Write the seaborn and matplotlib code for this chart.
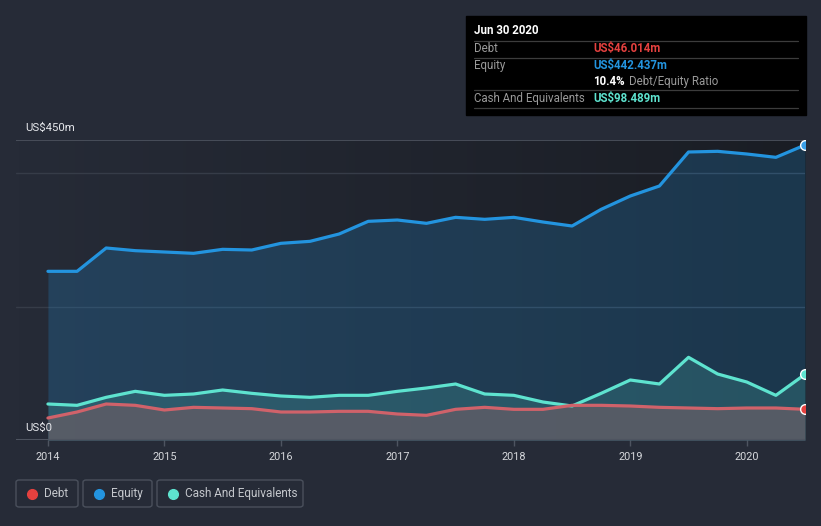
import numpy as np
import pandas as pd
import seaborn as sns
import matplotlib.pyplot as plt
from matplotlib.patches import FancyBboxPatch, Rectangle
from matplotlib.lines import Line2D
from matplotlib.colors import LinearSegmentedColormap

# Quarterly values, US$ millions
quarters = [2014.0, 2014.25, 2014.5, 2014.75, 2015.0, 2015.25, 2015.5, 2015.75,
            2016.0, 2016.25, 2016.5, 2016.75, 2017.0, 2017.25, 2017.5, 2017.75,
            2018.0, 2018.25, 2018.5, 2018.75, 2019.0, 2019.25, 2019.5, 2019.75,
            2020.0, 2020.25, 2020.5]
equity = [253, 253, 288, 284, 282, 280, 286, 285, 295, 298, 309, 328, 330, 325,
          334, 331, 334, 327, 321, 346, 366, 381, 432, 433, 429, 424, 442.437]
cash = [54, 52, 64, 73, 67, 69, 75, 70, 66, 64, 67, 67, 73, 78, 84, 69, 67, 57,
        51, 70, 90, 84, 124, 99, 87, 67, 98.489]
debt = [33, 42, 54, 52, 45, 49, 48, 47, 42, 42, 43, 43, 39, 37, 46, 49, 46, 46,
        52, 52, 51, 49, 48, 47, 48, 48, 46.014]
year_ticks = [2014, 2015, 2016, 2017, 2018, 2019, 2020]

W, H = 821, 526
BG = "#262b37"
EQ = "#2394df"
CA = "#5ee3cf"
DE = "#d0626a"


def fx(px):
    return px / W


def fy(py):
    return 1 - py / H


sns.set_theme(style="dark")
plt.rcParams["font.family"] = ["Roboto", "DejaVu Sans"]

df = pd.DataFrame({"date": quarters, "Equity": equity, "Cash": cash, "Debt": debt})

fig = plt.figure(figsize=(W / 100, H / 100), dpi=100, facecolor=BG)
ax = fig.add_axes([fx(16), fy(440), fx(805) - fx(16), fy(140) - fy(440)])
ax.set_facecolor(BG)

# horizontal background gradient of the plot area
cmap = LinearSegmentedColormap.from_list("bg", [BG, "#1a1d24"])
ax.imshow(np.linspace(0, 1, 256).reshape(1, -1), extent=[0, 1, 0, 1],
          transform=ax.transAxes, cmap=cmap, aspect="auto", zorder=0)

x0 = 2014 - 32 / 116.7
ax.set_xlim(x0, 2020.5)
ax.set_ylim(0, 450)

# grid lines
for v in [200, 400]:
    ax.axhline(v, color="#363c48", lw=1, zorder=1)
ax.axhline(450, color="#4e5460", lw=1.2, zorder=1)
ax.axhline(0, color="#4e5460", lw=1.5, zorder=6)

# fills
ax.fill_between(df["date"], 0, df["Equity"], color=EQ, alpha=0.22, lw=0, zorder=2)
ax.fill_between(df["date"], 0, df["Cash"], color=CA, alpha=0.17, lw=0, zorder=3)
ax.fill_between(df["date"], 0, df["Debt"], color="#5a5c66", alpha=0.92, lw=0, zorder=4)

# lines
sns.lineplot(data=df, x="date", y="Equity", color=EQ, lw=2.3, ax=ax, zorder=5)
sns.lineplot(data=df, x="date", y="Cash", color=CA, lw=2.3, ax=ax, zorder=5)
sns.lineplot(data=df, x="date", y="Debt", color=DE, lw=2.3, ax=ax, zorder=5)

# end markers (clipped at the right edge)
for col, c in [("Equity", "#3aa0e8"), ("Cash", CA), ("Debt", "#e5413f")]:
    ax.plot(df["date"].iloc[-1], df[col].iloc[-1], "o", ms=7, mfc=c,
            mec="white", mew=1, zorder=7)

for s in ax.spines.values():
    s.set_visible(False)
ax.set_xlabel("")
ax.set_ylabel("")
ax.set_yticks([])
ax.set_xticks(year_ticks)
ax.set_xticklabels([str(y) for y in year_ticks], color="#d6d8dc", fontsize=7.8)
ax.tick_params(axis="x", length=4, width=1, color="#4e5460", pad=5, bottom=True)

# y labels
fig.text(fx(25), fy(128), "US$450m", color="#e6e8ec", fontsize=8.2, va="center")
fig.text(fx(25), fy(428), "US$0", color="#e6e8ec", fontsize=8.2, va="center")

# tooltip box
fig.add_artist(Rectangle((fx(466), fy(115)), fx(806) - fx(466), fy(16) - fy(115),
                         transform=fig.transFigure, color="black", zorder=10))
for py in [40.5, 57.5, 90.5, 107.5]:
    fig.add_artist(Line2D([fx(474), fx(798)], [fy(py), fy(py)], transform=fig.transFigure,
                          color="#3c3c3c", lw=0.9, zorder=11))
fs = 8.3
fig.text(fx(474), fy(31), "Jun 30 2020", color="white", fontsize=fs, fontweight="bold",
         va="center", zorder=12)
fig.text(fx(474), fy(48.5), "Debt", color="#9a9a9a", fontsize=fs, va="center", zorder=12)
fig.text(fx(593), fy(48.5), "US$46.014m", color="#e5413f", fontsize=fs, fontweight="bold",
         va="center", zorder=12)
fig.text(fx(474), fy(65), "Equity", color="#9a9a9a", fontsize=fs, va="center", zorder=12)
fig.text(fx(593), fy(65), "US$442.437m", color=EQ, fontsize=fs, fontweight="bold",
         va="center", zorder=12)
t = fig.text(fx(593), fy(81.5), "10.4%", color="white", fontsize=fs, fontweight="bold",
             va="center", zorder=12)
fig.text(fx(629), fy(81.5), "Debt/Equity Ratio", color="#9a9a9a", fontsize=fs,
         va="center", zorder=12)
fig.text(fx(474), fy(98.5), "Cash And Equivalents", color="#9a9a9a", fontsize=fs,
         va="center", zorder=12)
fig.text(fx(593), fy(98.5), "US$98.489m", color=CA, fontsize=fs, fontweight="bold",
         va="center", zorder=12)

# legend boxes
legend_items = [("Debt", "#e5413f", 16, 78), ("Equity", EQ, 83, 152),
                ("Cash And Equivalents", CA, 157, 303)]
for label, c, l, r in legend_items:
    fig.add_artist(FancyBboxPatch((fx(l), fy(507)), fx(r) - fx(l), fy(480) - fy(507),
                                  boxstyle="round,pad=0,rounding_size=0.004",
                                  transform=fig.transFigure, fc="none",
                                  ec="#4a505c", lw=1))
    fig.add_artist(Line2D([fx(l + 16)], [fy(493.5)], marker="o", ms=7, color=c,
                          transform=fig.transFigure, lw=0))
    fig.text(fx(l + 28), fy(493.5), label, color="#c4c7cc", fontsize=8.5, va="center")

plt.savefig("out.png", dpi=100, facecolor=BG)
